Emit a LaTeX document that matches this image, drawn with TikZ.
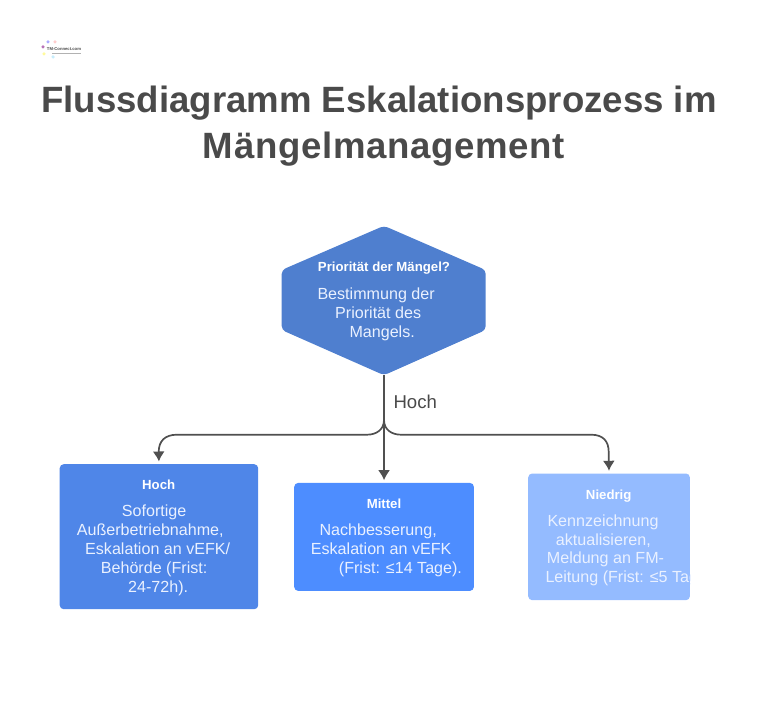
\documentclass[tikz,border=0pt]{standalone}
\usepackage{fontspec}
\setmainfont{Liberation Sans}
\usepackage{xcolor}
\usetikzlibrary{arrows.meta}
\definecolor{inkgray}{HTML}{4A4A4A}
\definecolor{linegray}{HTML}{505050}
\definecolor{hexblue}{HTML}{4F7FCF}
\definecolor{hochblue}{HTML}{4F86E8}
\definecolor{mittelblue}{HTML}{4D8DFF}
\definecolor{niedrigblue}{HTML}{94BBFF}
\definecolor{bodywhite}{HTML}{EAF1FF}
\tikzstyle{arrow} = [line width=1.7pt, draw=linegray, -{Latex[length=10pt,width=12pt]}, shorten >=2.5pt]

\begin{document}
\begin{tikzpicture}[
				x=1pt, y=-1pt,
				title/.style={text=inkgray, font=\fontsize{36.6}{46}\selectfont\bfseries, align=center},
				box/.style={draw=none, rounded corners=4pt, anchor=north west, inner sep=0pt},
				head/.style={text=white, font=\fontsize{13.2}{15}\selectfont\bfseries, anchor=base, inner sep=0pt},
				body/.style={text=bodywhite, font=\fontsize{16.1}{18.8}\selectfont, anchor=base west, align=left, inner sep=0pt},
				spot/.style={circle, inner sep=0pt, minimum size=3.5pt, opacity=0.55}
				]
				\useasboundingbox (0,0) rectangle (769,701);

				% logo
				\node (spot1) at (48,42) [spot, fill=blue!60] {};
				\node (spot2) at (55,42) [spot, fill=red!35] {};
				\node (spot3) at (43,47) [spot, fill=violet] {};
				\node (spot4) at (44,54) [spot, fill=yellow!70] {};
				\node (spot5) at (53,57) [spot, fill=cyan!40] {};
				\node (logo) at (64,49) [text=inkgray, font=\fontsize{4.2}{6}\selectfont\bfseries, inner sep=0pt] {TM-Connect.com};
				\draw[gray!60, line width=0.8pt] (52,53.5) -- (81,53.5);

				% title
				\node (title) at (379,126) [title] {Flussdiagramm Eskalationsprozess im\\ \hspace*{10pt}{\addfontfeature{LetterSpace=1.9}Mängelmanagement}};

				% decision
				\node (prio) at (384,300.5) [minimum width=204pt, minimum height=149pt, inner sep=0pt] {};
				\fill[hexblue, rounded corners=4pt] (prio.north) -- (485.7,270) -- (485.7,330) -- (prio.south) -- (281.7,330) -- (281.7,270) -- cycle;
				\node (priohead) at (384,271.7) [head] {Priorität der Mängel?};
				\node (priobody) at (317.3,337) [body] {Bestimmung der\\ \hspace*{17.7pt}Priorität des\\ \hspace*{32pt}Mangels.};

				% boxes
				\node (hoch) at (59.5,464) [box, fill=hochblue, minimum width=198.5pt, minimum height=145pt] {};
				\node (mittel) at (294,482.7) [box, fill=mittelblue, minimum width=179.7pt, minimum height=108pt] {};
				\node (niedrig) at (528,473.3) [box, fill=niedrigblue, minimum width=161.7pt, minimum height=126.7pt] {};

				\node (hochhead) at (158.7,489.3) [head] {Hoch};
				\node (mittelhead) at (384,508) [head] {Mittel};
				\node (niedrighead) at (608.7,499) [head] {Niedrig};

				\node (hochbody) at (76.7,592) [body] {\hspace*{45pt}Sofortige\\ Außerbetriebnahme,\\ \hspace*{8.3pt}Eskalation an vEFK/\\ \hspace*{24pt}Behörde (Frist:\\ \hspace*{51.3pt}24-72h).};
				\node (mittelbody) at (310.7,573) [body] {\hspace*{8.6pt}Nachbesserung,\\ Eskalation an vEFK\\ \hspace*{28pt}(Frist: ≤14 Tage).};
				\begin{scope}
					\clip (niedrig.north west) rectangle (niedrig.south east);
					\node (niedrigbody) at (545.3,582.7) [body] {\hspace*{2pt}Kennzeichnung\\ \hspace*{10.4pt}aktualisieren,\\ \hspace*{1.4pt}Meldung an FM-\\ Leitung (Frist: ≤5 Tage).};
				\end{scope}

				% connectors
				\node (hochlabel) at (393.3,408) [anchor=base west, inner sep=0pt, text=inkgray, font=\fontsize{18.6}{20}\selectfont] {Hoch};
				\draw[arrow] (prio.south) -- (mittel.north);
				\draw[arrow] (384,420) .. controls (384,430) and (376,434.7) .. (367,434.7) -- (177,434.7) .. controls (165,434.7) and (158.7,441) .. (158.7,452) -- (hoch.north);
				\draw[arrow] (384,420) .. controls (384,430) and (392,434.7) .. (401,434.7) -- (591,434.7) .. controls (603,434.7) and (608.7,441) .. (608.7,452) -- (niedrig.north);
\end{tikzpicture}
\end{document}
